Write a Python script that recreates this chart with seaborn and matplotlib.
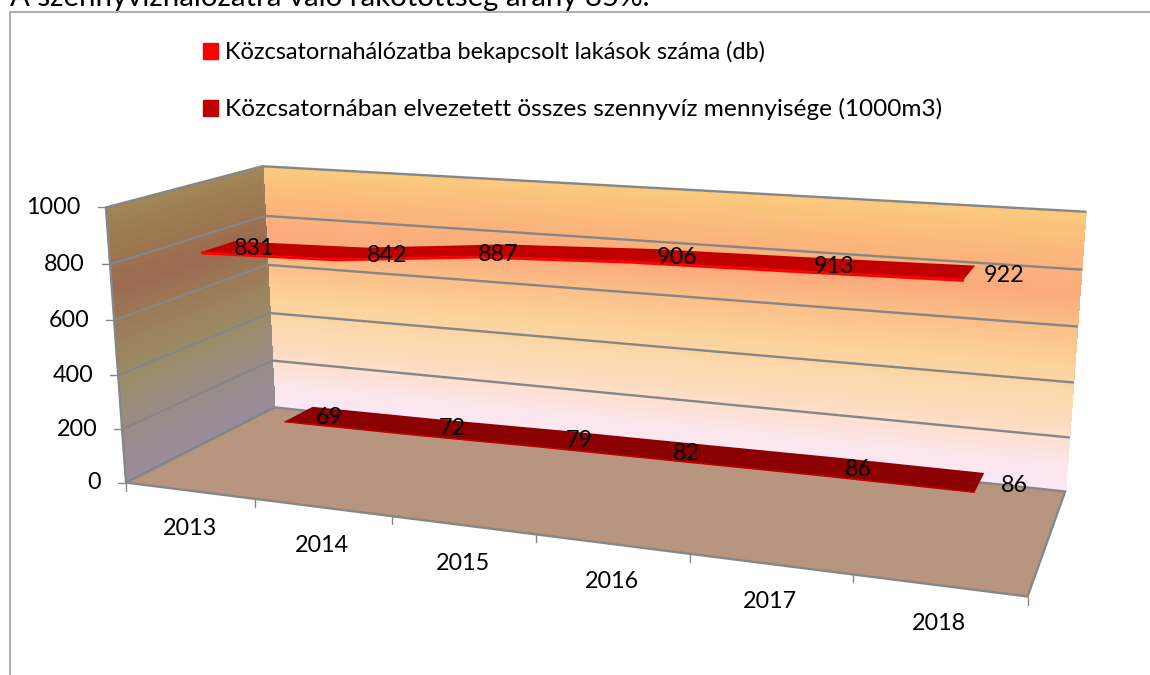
import numpy as np
import pandas as pd
import matplotlib
matplotlib.use("Agg")
import matplotlib.pyplot as plt
import seaborn as sns
from matplotlib.colors import LinearSegmentedColormap
from matplotlib.patches import Patch

years = ["2013", "2014", "2015", "2016", "2017", "2018"]
lakasok = [831, 842, 887, 906, 913, 922]
szennyviz = [69, 72, 79, 82, 86, 86]
value_ticks = [0, 200, 400, 600, 800, 1000]
series_names = ["Közcsatornahálózatba bekapcsolt lakások száma (db)",
                "Közcsatornában elvezetett összes szennyvíz mennyisége (1000m3)"]
title = "A szennyvízhálózatra való rákötöttség arány 85%."

VMAX = 1000.0
GRID = "#868686"

# calibration of the 3D box: (u, v, w) -> pixel of the figure
calib = [((0,0,0),(127,483)),((0,1,0),(106,207)),((0,0,1),(274,407)),((0,1,1),(263,166)),
         ((1,0,1),(1065,490)),((1,1,1),(1085,212)),((1,0,0),(1027,598)),
         ((1,.8,1),(1082,270)),((1,.6,1),(1077,327)),((1,.4,1),(1073,382)),((1,.2,1),(1070,437)),
         ((0,.8,1),(265,216)),((0,.6,1),(267,265)),((0,.4,1),(270,314)),((0,.2,1),(272,361)),
         ((0,.8,0),(110,264)),((0,.6,0),(114,320)),((0,.4,0),(118,375)),((0,.2,0),(122,429))]
A = []; b = []
for (u, v, w), (x, y) in calib:
    A.append([u, v, w, 1, 0, 0, 0, 0, -x*u, -x*v, -x*w]); b.append(x)
    A.append([0, 0, 0, 0, u, v, w, 1, -y*u, -y*v, -y*w]); b.append(y)
p = np.linalg.lstsq(np.array(A, float), np.array(b, float), rcond=None)[0]
P = np.append(p, 1).reshape(3, 4)

def proj(u, v, w):
    u, v, w = np.broadcast_arrays(np.asarray(u, float), np.asarray(v, float), np.asarray(w, float))
    h = np.tensordot(P, np.stack([u, v, w, np.ones_like(u)]), axes=(1, 0))
    return h[0]/h[2], h[1]/h[2]

sns.set_theme(style="white")
plt.rcParams['font.family'] = ['Lato', 'DejaVu Sans']
fig = plt.figure(figsize=(11.5, 6.75), dpi=100)
ax = fig.add_axes([0, 0, 1, 1])
ax.set_xlim(0, 1150); ax.set_ylim(675, 0); ax.axis('off')

FS = 16.8
# frame and clipped title
ax.plot([10, 10, 1150], [675, 12, 12], color="#A0A0A0", lw=1.2, zorder=1)
ax.text(10, 6, title, fontsize=21.2, color="black", va="baseline", ha="left", zorder=1)

wall_cmap = LinearSegmentedColormap.from_list("wall", [
    (0.0, "#FBE8F6"), (0.10, "#FCE6EC"), (0.25, "#FCDCBE"), (0.45, "#FBD49C"),
    (0.6, "#FBC088"), (0.72, "#FBAA7C"), (0.85, "#FBB67C"), (1.0, "#FBC97E")])
side_cmap = LinearSegmentedColormap.from_list("side", [
    (0.0, "#9A8D9C"), (0.2, "#998C8A"), (0.4, "#9A8C66"), (0.55, "#9C7F5A"),
    (0.72, "#9C6A50"), (0.85, "#9C7650"), (1.0, "#A08656")])

vv = np.linspace(0, 1, 101)
uu = np.linspace(0, 1, 3)
U, V = np.meshgrid(uu, vv)
X, Y = proj(U, V, np.ones_like(U))
ax.pcolormesh(X, Y, (V[:-1, :-1]+V[1:, 1:])/2, cmap=wall_cmap, vmin=0, vmax=1, shading="flat",
              zorder=2, antialiased=False, edgecolors="face", linewidth=0.6)
X, Y = proj(np.zeros_like(U), V, U)
ax.pcolormesh(X, Y, (V[:-1, :-1]+V[1:, 1:])/2, cmap=side_cmap, vmin=0, vmax=1, shading="flat",
              zorder=2, antialiased=False, edgecolors="face", linewidth=0.6)
fx, fy = proj([0, 1, 1, 0], 0, [0, 0, 1, 1])
ax.fill(fx, fy, color="#B8957F", lw=0, zorder=2.5)

# gridlines on both walls
for t in value_ticks:
    v = t/VMAX
    gx, gy = proj([0, 0, 1], v, [0, 1, 1])
    if t == 0:
        gx, gy = proj([0, 0, 1, 1, 0, 0], 0, [0, 1, 1, 0, 0, 1])
    ax.plot(gx, gy, color=GRID, lw=1.7, zorder=3, solid_joinstyle="miter")
    tx, ty = proj(0, v, 0)
    ax.plot([tx-8, tx], [ty, ty], color=GRID, lw=1.0, zorder=3)
    ax.text(tx-25, ty, str(t), fontsize=FS, ha="right", va="center", color="black", zorder=6)
wx, wy = proj([0, 0], [0, 1], [0, 0]); ax.plot(wx, wy, color=GRID, lw=1.7, zorder=3)
wx, wy = proj([0, 0], [0, 1], [1, 1]); ax.plot(wx, wy, color="#8F8F8F", lw=0.6, alpha=.5, zorder=3)

# category ticks and labels on the front floor edge
n = len(years)
for i in range(n+1):
    tx, ty = proj(i/n, 0, 0)
    ax.plot([tx, tx], [ty, ty+8], color=GRID, lw=1.0, zorder=3)
for i, yr in enumerate(years):
    tx, ty = proj((i+.5)/n, 0, 0)
    ax.text(tx, ty+38, yr, fontsize=FS, ha="center", va="center", color="black", zorder=6)

# ribbons
upos = (np.arange(n)+.5)/n
def ribbon(values, w0, w1, top, side, nudges, thick):
    v = np.array(values)/VMAX
    x0, y0 = proj(upos, v, w0)
    x1, y1 = proj(upos, v, w1)
    ax.fill(np.r_[x0, x1[::-1]], np.r_[y0, y1[::-1]], color=top, lw=0, zorder=4)
    xs, ys = proj(upos, v-thick, w0)
    ax.fill(np.r_[x0, xs[::-1]], np.r_[y0, ys[::-1]], color=side, lw=0, zorder=4.1)
    sns.lineplot(data=pd.DataFrame({"x": x0, "y": y0}), x="x", y="y", color=side, lw=0.8,
                 ax=ax, zorder=4.2, legend=False, errorbar=None, sort=False)
    xm, ym = proj(upos, v, (w0+w1)/2)
    for i, val in enumerate(values):
        ax.annotate(str(val), (xm[i], ym[i]), xytext=nudges[i], textcoords="offset pixels",
                    fontsize=FS, ha="center", va="center", color="black", zorder=6)

s1_offsets = [(36, -2), (36, -2), (7, -4), (36, -3), (34, -3), (34, -3)]
s2_offsets = [(30, -3), (31, -2), (30, -2), (1, -1), (30, -3), (35, -3)]
ribbon(lakasok, 0.155, 0.365, "#C00000", "#FF0000", s1_offsets, 0.008)
ribbon(szennyviz, 0.645, 0.855, "#8B0000", "#C00000", s2_offsets, 0.004)
ax.set_xlim(0, 1150); ax.set_ylim(675, 0); ax.axis('off')

# legend
handles = [Patch(color="#FF0000", label=series_names[0]), Patch(color="#C00000", label=series_names[1])]
leg = ax.legend(handles=handles, loc="upper left", bbox_to_anchor=(203/1150, 1-41/675),
                frameon=False, fontsize=FS, handlelength=0.64, handleheight=0.64, handletextpad=0.3,
                labelspacing=1.5, borderaxespad=0, borderpad=0, labelcolor="black")
leg.get_texts()[0].set_fontsize(16.95)
leg.get_texts()[1].set_fontsize(17.6)
leg.set_zorder(7)
fig.savefig("out.png", dpi=100)
